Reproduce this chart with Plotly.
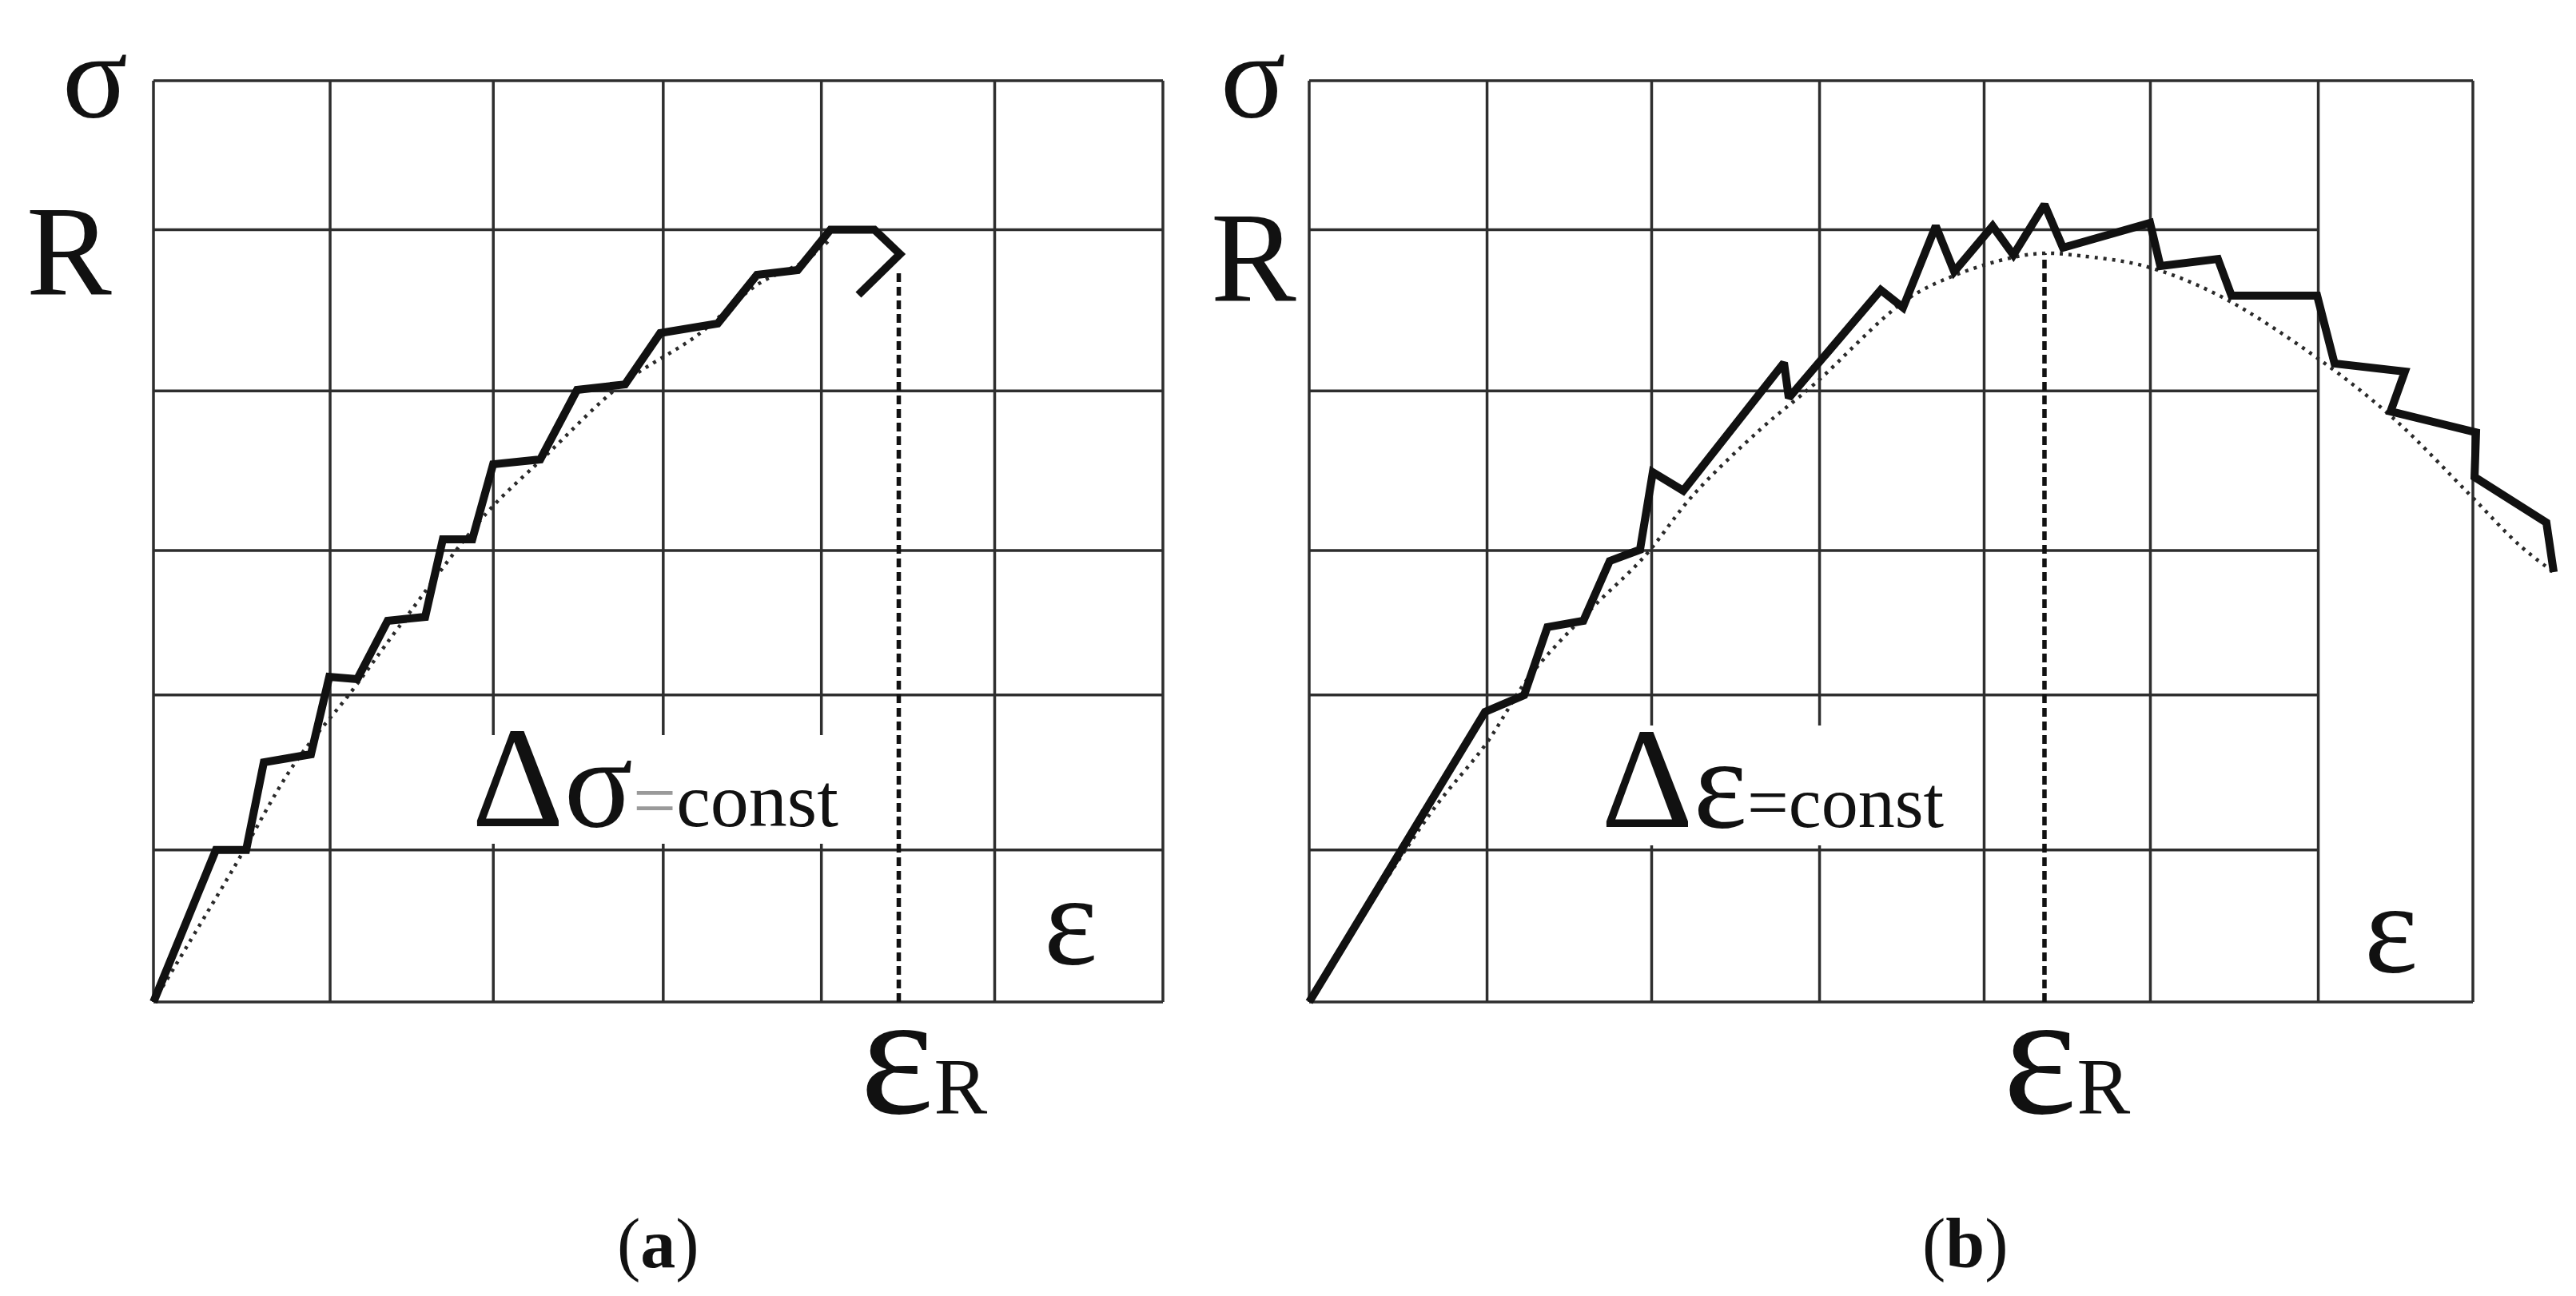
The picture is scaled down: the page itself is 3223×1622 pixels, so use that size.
import plotly.graph_objects as go

W, H = 3223, 1622

# panel (a): stepwise loading with constant stress increment
eps_grid_a = [0, 1.05, 2.02, 3.03, 3.97, 5.0, 6.0]
sig_grid_a = [0, 0.99, 2.0, 2.94, 3.98, 5.03, 6.0]

eps_a = [0, 0.371, 0.551, 0.656, 0.936, 1.045, 1.211, 1.392, 1.615, 1.720, 1.895,
         2.019, 2.299, 2.518, 2.803, 3.012, 3.354, 3.587, 3.829, 4.024, 4.285, 4.437, 4.190]
sig_a = [0, 0.99, 0.99, 1.561, 1.613, 2.118, 2.102, 2.482, 2.508, 3.013, 3.013,
         3.502, 3.533, 3.986, 4.022, 4.356, 4.418, 4.735, 4.767, 5.03, 5.03, 4.871, 4.605]

eps_fit_a = [0, 0.475, 0.831, 1.178, 1.458, 1.981, 2.328, 2.789, 3.230, 3.591, 3.876, 4.019]
sig_fit_a = [0, 0.869, 1.540, 2.024, 2.441, 3.185, 3.554, 4.028, 4.340, 4.673, 4.829, 4.964]

eps_r_a = 4.43
sig_r_a = 4.77

# panel (b): stepwise loading with constant strain increment
eps_grid_b = [0, 1.07, 2.06, 3.07, 4.06, 5.06, 6.07, 7.0]
sig_grid_b = [0, 0.99, 2.0, 2.94, 3.98, 5.03, 6.0]

eps_b = [0, 1.058, 1.293, 1.433, 1.649, 1.808, 1.990, 2.067, 2.250, 2.856, 2.885,
         3.438, 3.572, 3.769, 3.880, 4.111, 4.236, 4.423, 4.534, 5.058, 5.120,
         5.466, 5.548, 6.063, 6.168, 6.591, 6.505, 7.019, 7.010, 7.442, 7.486]
sig_b = [0, 1.889, 1.998, 2.441, 2.482, 2.872, 2.945, 3.450, 3.330, 4.163, 3.934,
         4.637, 4.522, 5.053, 4.756, 5.053, 4.865, 5.193, 4.912, 5.074, 4.793,
         4.839, 4.600, 4.600, 4.158, 4.106, 3.846, 3.710, 3.419, 3.122, 2.800]

eps_fit_b = [0, 0.726, 1.067, 1.327, 1.692, 2.014, 2.312, 2.721, 3.043, 3.587, 3.889,
             4.236, 4.428, 4.635, 5.024, 5.466, 6.043, 6.514, 6.981, 7.284, 7.486]
sig_fit_b = [0, 1.223, 1.686, 2.123, 2.555, 2.898, 3.304, 3.736, 4.028, 4.569, 4.735,
             4.850, 4.876, 4.860, 4.793, 4.605, 4.210, 3.809, 3.304, 2.971, 2.800]

eps_r_b = 4.423
sig_r_b = 4.876

FONT = "Liberation Serif"
INK = "#111111"
GRID = "#2e2e2e"


def px(x):
    return x / W


def py(y):
    return 1 - y / H


def grid_lines(xs, ys, inner_x_end):
    # vertical lines span full height; inner horizontals stop at inner_x_end
    gx, gy = [], []
    for x in xs:
        gx += [x, x, None]
        gy += [ys[0], ys[-1], None]
    for j, y in enumerate(ys):
        x_end = xs[-1] if j in (0, len(ys) - 1) else inner_x_end
        gx += [xs[0], x_end, None]
        gy += [y, y, None]
    return gx, gy


fig = go.Figure()

panels = [
    ("x", "y", eps_grid_a, sig_grid_a, eps_grid_a[-1], eps_a, sig_a, eps_fit_a, sig_fit_a, eps_r_a, sig_r_a),
    ("x2", "y2", eps_grid_b, sig_grid_b, eps_grid_b[-2], eps_b, sig_b, eps_fit_b, sig_fit_b, eps_r_b, sig_r_b),
]

for xa, ya, gxs, gys, inner_end, ex, sy, fx, fy, er, sr in panels:
    gx, gy = grid_lines(gxs, gys, inner_end)
    fig.add_trace(go.Scatter(x=gx, y=gy, mode="lines", xaxis=xa, yaxis=ya,
                             line=dict(color=GRID, width=3.5), hoverinfo="skip"))
    fig.add_trace(go.Scatter(x=[er, er], y=[0, sr], mode="lines", xaxis=xa, yaxis=ya,
                             line=dict(color=INK, width=5.5, dash="11px,6px")))
    fig.add_trace(go.Scatter(x=fx, y=fy, mode="lines", xaxis=xa, yaxis=ya,
                             line=dict(color="#2a2a2a", width=4.5, dash="4px,7px", shape="spline")))
    fig.add_trace(go.Scatter(x=ex, y=sy, mode="lines", xaxis=xa, yaxis=ya,
                             line=dict(color=INK, width=10)))

# axis placement: origin pixel and pixel size of one grid unit
ox_a, ux_a = 184, 210.5
ox_b, ux_b = 1630, 208
oy, uy = 1246, 192.17
pad = 0.15
xr_a = [-pad, 6 + pad]
xr_b = [-pad, 7.6]
yr = [-pad, 6 + pad]

hidden = dict(visible=False, showgrid=False, zeroline=False, fixedrange=True)
fig.update_layout(
    xaxis=dict(hidden, range=xr_a, domain=[px(ox_a + xr_a[0] * ux_a), px(ox_a + xr_a[1] * ux_a)], anchor="y"),
    yaxis=dict(hidden, range=yr, domain=[py(oy - yr[0] * uy), py(oy - yr[1] * uy)], anchor="x"),
    xaxis2=dict(hidden, range=xr_b, domain=[px(ox_b + xr_b[0] * ux_b), px(ox_b + xr_b[1] * ux_b)], anchor="y2"),
    yaxis2=dict(hidden, range=yr, domain=[py(oy - yr[0] * uy), py(oy - yr[1] * uy)], anchor="x2"),
)

# white knock-out behind the increment labels
for x0, x1, y0, y1 in [(578, 1064, 912, 1048), (1990, 2452, 900, 1050)]:
    fig.add_shape(type="rect", xref="paper", yref="paper", x0=px(x0), x1=px(x1), y0=py(y1), y1=py(y0),
                  fillcolor="white", line=dict(width=0), layer="above")

small_eq_a = "<span style='font-size:96px'><span style='fill:#9a9a9a'>=</span>const</span>"
small_eq_b = "<span style='font-size:92px'>=const</span>"
labels = [
    # text, x px, y px, size, xanchor, yanchor
    ("σ", 111, 2, 152, "center", "top"),
    ("R", 78, 306, 160, "center", "middle"),
    ("σ", 1560, 2, 152, "center", "top"),
    ("R", 1560, 314, 160, "center", "middle"),
    ("ε", 1331, 1144, 160, "center", "middle"),
    ("ε", 2983, 1154, 160, "center", "middle"),
    ("ε<span style='font-size:100px'>R</span>", 1066, 1311, 220, "left", "middle"),
    ("ε<span style='font-size:100px'>R</span>", 2496, 1311, 220, "left", "middle"),
    ("<span style='font-size:180px'>Δ</span>σ" + small_eq_a, 580, 965, 160, "left", "middle"),
    ("<span style='font-size:180px'>Δ</span>ε" + small_eq_b, 1993, 967, 160, "left", "middle"),
    ("(<b>a</b>)", 815, 1548, 88, "center", "middle"),
    ("(<b>b</b>)", 2451, 1548, 88, "center", "middle"),
]
for text, x, y, size, xanchor, yanchor in labels:
    fig.add_annotation(text=text, x=px(x), y=py(y), xref="paper", yref="paper",
                       xanchor=xanchor, yanchor=yanchor, showarrow=False,
                       font=dict(family=FONT, size=size, color=INK))

fig.update_layout(
    width=W, height=H,
    margin=dict(l=0, r=0, t=0, b=0),
    paper_bgcolor="white", plot_bgcolor="white",
    showlegend=False,
)

fig.write_html("out.html")
